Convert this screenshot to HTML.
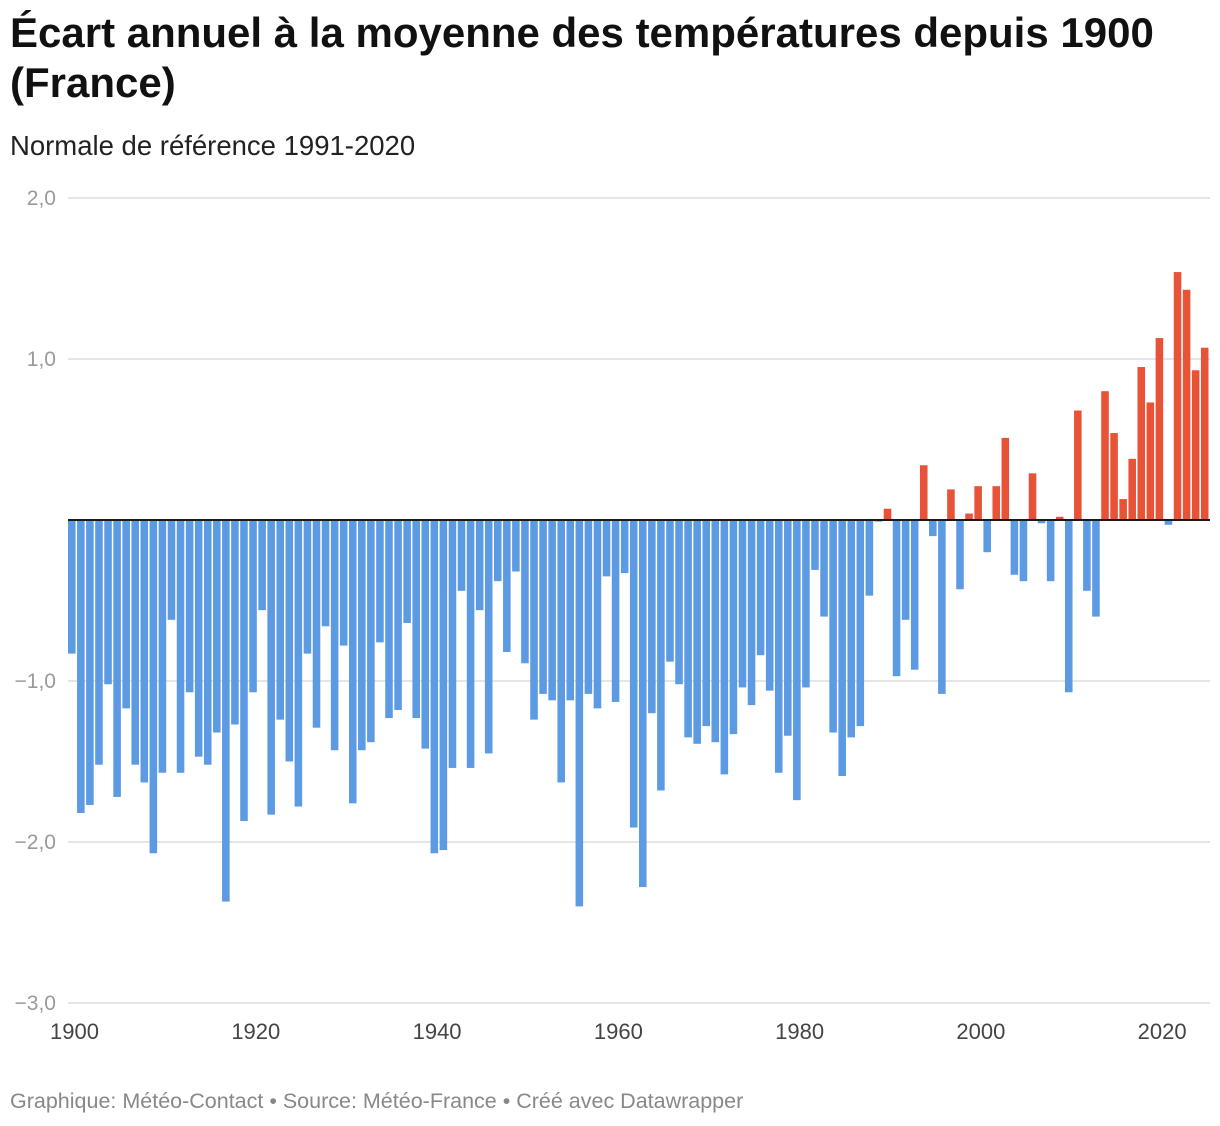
<!DOCTYPE html>
<html><head><meta charset="utf-8">
<style>
body{margin:0;background:#fff;width:1220px;height:1126px;overflow:hidden;font-family:"Liberation Sans",sans-serif;}
h1{position:absolute;left:10px;top:8px;margin:0;font-size:42px;line-height:50px;font-weight:bold;color:#111;width:1210px;letter-spacing:0px}
.sub{position:absolute;left:10px;top:130px;font-size:27.5px;color:#222}
.foot{position:absolute;left:10px;top:1089px;font-size:21.5px;color:#888}
svg{position:absolute;left:0;top:0}
</style></head><body>
<h1>Écart annuel à la moyenne des températures depuis 1900 (France)</h1>
<div class="sub">Normale de référence 1991-2020</div>
<svg id="chart" width="1220" height="1126"></svg>
<div class="foot">Graphique: Météo-Contact • Source: Météo-France • Créé avec Datawrapper</div>
<script>
const startYear = 1900;
const values = [
-0.83,-1.82,-1.77,-1.52,-1.02,-1.72,-1.17,-1.52,-1.63,-2.07,
-1.57,-0.62,-1.57,-1.07,-1.47,-1.52,-1.32,-2.37,-1.27,-1.87,
-1.07,-0.56,-1.83,-1.24,-1.50,-1.78,-0.83,-1.29,-0.66,-1.43,
-0.78,-1.76,-1.43,-1.38,-0.76,-1.23,-1.18,-0.64,-1.23,-1.42,
-2.07,-2.05,-1.54,-0.44,-1.54,-0.56,-1.45,-0.38,-0.82,-0.32,
-0.89,-1.24,-1.08,-1.12,-1.63,-1.12,-2.40,-1.08,-1.17,-0.35,
-1.13,-0.33,-1.91,-2.28,-1.20,-1.68,-0.88,-1.02,-1.35,-1.39,
-1.28,-1.38,-1.58,-1.33,-1.04,-1.15,-0.84,-1.06,-1.57,-1.34,
-1.74,-1.04,-0.31,-0.60,-1.32,-1.59,-1.35,-1.28,-0.47,-0.01,
0.07,-0.97,-0.62,-0.93,0.34,-0.10,-1.08,0.19,-0.43,0.04,
0.21,-0.20,0.21,0.51,-0.34,-0.38,0.29,-0.02,-0.38,0.02,
-1.07,0.68,-0.44,-0.60,0.80,0.54,0.13,0.38,0.95,0.73,
1.13,-0.03,1.54,1.43,0.93,1.07];
const yTicks = [2,1,-1,-2,-3];
const yTickLabels = ["2,0","1,0","−1,0","−2,0","−3,0"];
const xTicks = [1900,1920,1940,1960,1980,2000,2020];

const NS="http://www.w3.org/2000/svg";
const svg=document.getElementById('chart');
const X0=68, X1=1210, Y0=520, PX=161;
const band=(X1-X0)/values.length;
const y=v=>Y0-v*PX;
const xl=i=>X0+i*band;
function mk(t,a){const e=document.createElementNS(NS,t);for(const k in a)e.setAttribute(k,a[k]);svg.appendChild(e);return e;}

yTicks.forEach((t,i)=>{
  const g=mk('line',{x1:X0,x2:X1,y1:y(t),y2:y(t),stroke:'#e5e5e5','stroke-width':2});
  
  
  const l=mk('text',{x:56,y:y(t)+7,'text-anchor':'end','font-size':21,fill:'#9a9a9a','font-family':'Liberation Sans, sans-serif'});
  l.textContent=yTickLabels[i];
  
  
});
values.forEach((v,i)=>{
  const top=Math.min(y(v),Y0), h=Math.abs(y(v)-Y0);
  const r=mk('rect',{x:xl(i),y:top,width:band-1.5,height:h,fill:v>=0?'#e85237':'#5c9be3'});
  
  
});
const z=mk('line',{x1:X0,x2:X1,y1:Y0,y2:Y0,stroke:'#1a1a1a','stroke-width':2});


xTicks.forEach(t=>{
  const i=t-startYear;
  const l=mk('text',{x:xl(i)+band/2+2,y:1039,'text-anchor':'middle','font-size':22,fill:'#444','font-family':'Liberation Sans, sans-serif'});
  l.textContent=t;
  
  
});
</script>
</body></html>
